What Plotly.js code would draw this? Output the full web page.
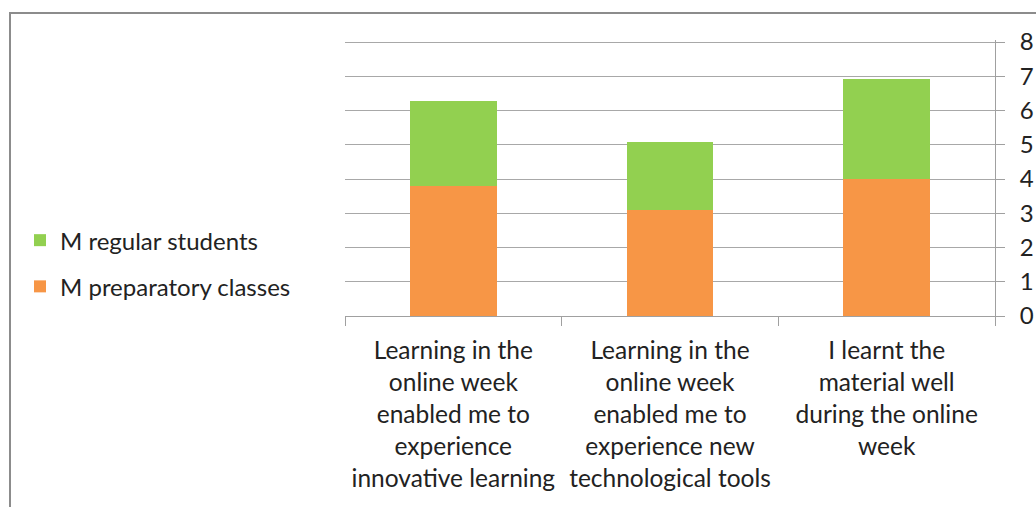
<!DOCTYPE html>
<html>
<head>
<meta charset="utf-8">
<script src="https://cdn.plot.ly/plotly-3.0.1.min.js"></script>
<style>
  html, body { margin: 0; padding: 0; background: #fff; overflow: hidden; }
  #frame { position: absolute; left: 9px; top: 12px; width: 1100px; height: 600px; border: 2px solid #8c8c8c; box-sizing: border-box; }
  #chart { position: absolute; left: 0; top: 0; width: 1036px; height: 507px; }
</style>
</head>
<body>
<div id="frame"></div>
<div id="chart"></div>
<script>
// statements shown under the bars
var categories = [
  'Learning in the<br>online week<br>enabled me to<br>experience<br>innovative learning',
  'Learning in the<br>online week<br>enabled me to<br>experience new<br>technological tools',
  'I learnt the<br>material well<br>during the online<br>week'
]

// means per group
var m_preparatory = [3.81, 3.09, 4.0]
var m_regular = [2.47, 1.98, 2.93]

var yticks = [0, 1, 2, 3, 4, 5, 6, 7, 8]

var font_family = 'Lato, "Open Sans", sans-serif'

var trace_prep = {
  x: categories,
  y: m_preparatory,
  type: 'bar',
  name: 'M preparatory classes',
  legendgroup: 'prep',
  legendrank: 2,
  marker: { color: '#F79646' },
  hoverinfo: 'y'
}

var trace_regular = {
  x: categories,
  y: m_regular,
  type: 'bar',
  name: 'M regular students',
  legendgroup: 'regular',
  legendrank: 1,
  marker: { color: '#92D050' },
  hoverinfo: 'y'
}

var layout = {
  width: 1036,
  height: 507,
  barmode: 'stack',
  bargap: 0.6,
  margin: { l: 345, r: 41, t: 40, b: 191 },
  paper_bgcolor: 'rgba(0, 0, 0, 0)',
  plot_bgcolor: 'rgba(0, 0, 0, 0)',
  font: { family: font_family, size: 24, color: '#222' },
  showlegend: true,
  legend: {
    x: -0.5,
    xanchor: 'left',
    y: 0.19,
    yanchor: 'middle',
    traceorder: 'grouped',
    tracegroupgap: 12,
    font: { family: font_family, size: 24, color: '#222' },
    itemclick: false
  },
  xaxis: {
    type: 'category',
    tickson: 'boundaries',
    ticks: 'outside',
    ticklen: 9,
    tickcolor: '#a0a0a0',
    showline: true,
    linecolor: '#a0a0a0',
    linewidth: 1,
    showgrid: false,
    tickangle: 0,
    ticklabelstandoff: 13,
    tickfont: { family: font_family, size: 24.5, color: '#222' },
    fixedrange: true
  },
  yaxis: {
    side: 'right',
    range: [0, 8.06],
    tickvals: yticks,
    ticks: 'outside',
    ticklen: 9,
    tickcolor: '#a0a0a0',
    showline: true,
    linecolor: '#a0a0a0',
    linewidth: 1,
    gridcolor: '#a8a8a8',
    gridwidth: 1,
    zeroline: false,
    ticklabelstandoff: 10,
    tickfont: { family: font_family, size: 24, color: '#222' },
    fixedrange: true
  }
}

Plotly.newPlot('chart', [trace_prep, trace_regular], layout, { displayModeBar: false, staticPlot: true })
</script>
</body>
</html>
